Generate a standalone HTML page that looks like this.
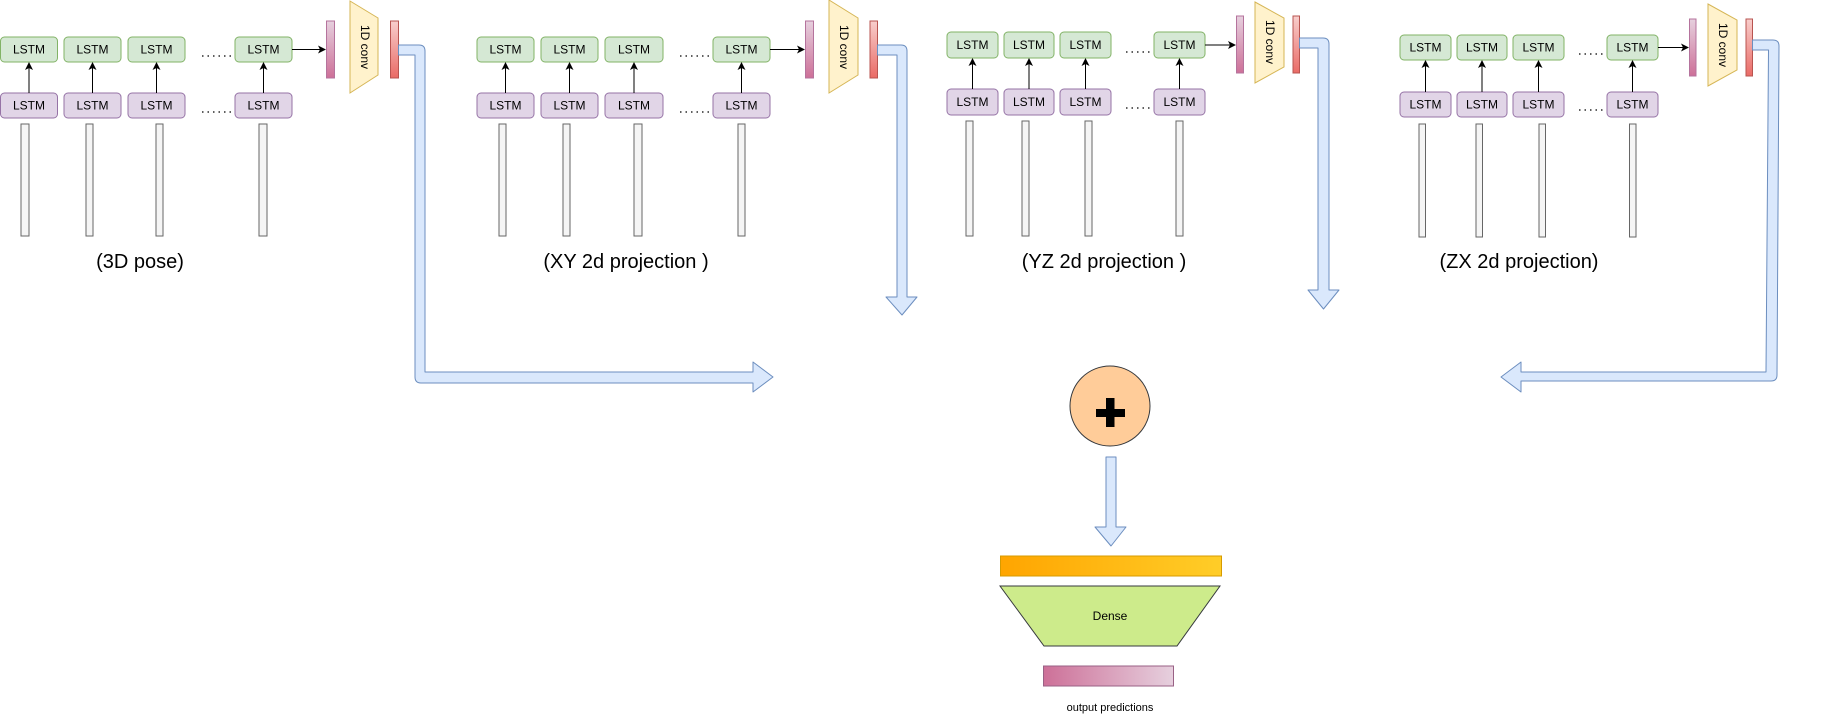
<!DOCTYPE html>
<html><head><meta charset="utf-8"><style>html,body{margin:0;padding:0;background:#fff;}svg{display:block;}text{font-family:"Liberation Sans",Arial,sans-serif;}
#w{position:relative;width:1821px;height:720px;}
.rc{position:absolute;width:80px;height:16px;margin-left:-40px;margin-top:-8px;line-height:16px;text-align:center;font:12px "Liberation Sans",Arial,sans-serif;color:#000;transform:rotate(90deg);white-space:nowrap;}
</style></head>
<body><div id="w">
<svg width="1821" height="720" viewBox="0 0 1821 720" xmlns="http://www.w3.org/2000/svg" font-family="Liberation Sans, Arial, sans-serif">
<defs>
<linearGradient id="pk" x1="0" y1="0" x2="0" y2="1"><stop offset="0" stop-color="#e6d0de"/><stop offset="1" stop-color="#cd7098"/></linearGradient>
<linearGradient id="rd" x1="0" y1="0" x2="0" y2="1"><stop offset="0" stop-color="#f8cecc"/><stop offset="1" stop-color="#ea6b66"/></linearGradient>
<linearGradient id="og" x1="0" y1="0" x2="1" y2="0"><stop offset="0" stop-color="#ffa500"/><stop offset="1" stop-color="#ffcd28"/></linearGradient>
<linearGradient id="op" x1="0" y1="0" x2="1" y2="0"><stop offset="0" stop-color="#cd7098"/><stop offset="1" stop-color="#e6d0de"/></linearGradient>
<marker id="ah" markerWidth="8" markerHeight="8" refX="7" refY="4" orient="auto" markerUnits="userSpaceOnUse"><path d="M0,0 L8,4 L0,8 L2,4 Z" fill="#000"/></marker>
<style>
.g{fill:#d5e8d4;stroke:#82b366;stroke-width:1}
.p{fill:#e1d5e7;stroke:#9673a6;stroke-width:1}
.b{fill:#f5f5f5;stroke:#666;stroke-width:1}
.t{font-family:"Liberation Sans",Arial,sans-serif;font-size:12px;text-anchor:middle;dominant-baseline:central;fill:#000}
.ln{stroke:#000;stroke-width:1;marker-end:url(#ah)}
.dt{stroke:#000;stroke-width:1.3;stroke-dasharray:1.5,4}
.tr{fill:#fff2cc;stroke:#d6b656;stroke-width:1}
.pb{fill:url(#pk);stroke:#b5739d}
.rb{fill:url(#rd);stroke:#b85450}
.pipe{fill:#dae8fc;stroke:#6c8ebf;stroke-width:1;stroke-linejoin:round}
.lab{font-family:"Liberation Sans",Arial,sans-serif;font-size:20px;text-anchor:middle;fill:#000}
</style>
</defs>

<!-- Group 1 -->
<g>
<rect class="g" x="0.5" y="37" width="57" height="25" rx="4"/><text class="t" x="29" y="49.5">LSTM</text>
<rect class="g" x="64" y="37" width="57" height="25" rx="4"/><text class="t" x="92.5" y="49.5">LSTM</text>
<rect class="g" x="128" y="37" width="57" height="25" rx="4"/><text class="t" x="156.5" y="49.5">LSTM</text>
<rect class="g" x="235" y="37" width="57" height="25" rx="4"/><text class="t" x="263.5" y="49.5">LSTM</text>
<rect class="p" x="0.5" y="93" width="57" height="25" rx="4"/><text class="t" x="29" y="105.5">LSTM</text>
<rect class="p" x="64" y="93" width="57" height="25" rx="4"/><text class="t" x="92.5" y="105.5">LSTM</text>
<rect class="p" x="128" y="93" width="57" height="25" rx="4"/><text class="t" x="156.5" y="105.5">LSTM</text>
<rect class="p" x="235" y="93" width="57" height="25" rx="4"/><text class="t" x="263.5" y="105.5">LSTM</text>
<line class="ln" x1="29" y1="93" x2="29" y2="63"/><line class="ln" x1="92.5" y1="93" x2="92.5" y2="63"/><line class="ln" x1="156.5" y1="93" x2="156.5" y2="63"/><line class="ln" x1="263.5" y1="93" x2="263.5" y2="63"/>
<line class="ln" x1="292" y1="49.5" x2="325" y2="49.5"/>
<line class="dt" x1="202" y1="56" x2="234" y2="56"/><line class="dt" x1="202" y1="112" x2="234" y2="112"/>
<rect class="b" x="21" y="124" width="8" height="112"/><rect class="b" x="86" y="124" width="7" height="112"/><rect class="b" x="156" y="124" width="7" height="112"/><rect class="b" x="259" y="124" width="8" height="112"/>
<rect class="pb" x="326.5" y="21" width="8" height="57"/>
<polygon class="tr" points="350,1 378,18 378,75 350,93"/>
<rect class="rb" x="390.5" y="21" width="8" height="57"/>
<text class="lab" x="140" y="268">(3D pose)</text>
</g>

<!-- Group 2 -->
<g>
<rect class="g" x="477" y="37" width="57" height="25" rx="4"/><text class="t" x="505.5" y="49.5">LSTM</text>
<rect class="g" x="541" y="37" width="57" height="25" rx="4"/><text class="t" x="569.5" y="49.5">LSTM</text>
<rect class="g" x="605" y="37" width="58" height="25" rx="4"/><text class="t" x="634" y="49.5">LSTM</text>
<rect class="g" x="713" y="37" width="57" height="25" rx="4"/><text class="t" x="741.5" y="49.5">LSTM</text>
<rect class="p" x="477" y="93" width="57" height="25" rx="4"/><text class="t" x="505.5" y="105.5">LSTM</text>
<rect class="p" x="541" y="93" width="57" height="25" rx="4"/><text class="t" x="569.5" y="105.5">LSTM</text>
<rect class="p" x="605" y="93" width="58" height="25" rx="4"/><text class="t" x="634" y="105.5">LSTM</text>
<rect class="p" x="713" y="93" width="57" height="25" rx="4"/><text class="t" x="741.5" y="105.5">LSTM</text>
<line class="ln" x1="505.5" y1="93" x2="505.5" y2="63"/><line class="ln" x1="569.5" y1="93" x2="569.5" y2="63"/><line class="ln" x1="634" y1="93" x2="634" y2="63"/><line class="ln" x1="741.5" y1="93" x2="741.5" y2="63"/>
<line class="ln" x1="770" y1="49.5" x2="804" y2="49.5"/>
<line class="dt" x1="680" y1="56" x2="712" y2="56"/><line class="dt" x1="680" y1="112" x2="712" y2="112"/>
<rect class="b" x="499" y="124" width="7" height="112"/><rect class="b" x="563" y="124" width="7" height="112"/><rect class="b" x="634" y="124" width="8" height="112"/><rect class="b" x="738" y="124" width="7" height="112"/>
<rect class="pb" x="805.5" y="21" width="8" height="57"/>
<polygon class="tr" points="829,0 858,18 858,75 829,93"/>
<rect class="rb" x="870" y="21" width="7.5" height="57"/>
<text class="lab" x="626" y="268">(XY 2d projection )</text>
</g>

<!-- Group 3 -->
<g>
<rect class="g" x="947" y="32" width="51" height="26" rx="4"/><text class="t" x="972.5" y="45">LSTM</text>
<rect class="g" x="1004" y="32" width="50" height="26" rx="4"/><text class="t" x="1029" y="45">LSTM</text>
<rect class="g" x="1060" y="32" width="51" height="26" rx="4"/><text class="t" x="1085.5" y="45">LSTM</text>
<rect class="g" x="1154" y="32" width="51" height="26" rx="4"/><text class="t" x="1179.5" y="45">LSTM</text>
<rect class="p" x="947" y="89" width="51" height="26" rx="4"/><text class="t" x="972.5" y="102">LSTM</text>
<rect class="p" x="1004" y="89" width="50" height="26" rx="4"/><text class="t" x="1029" y="102">LSTM</text>
<rect class="p" x="1060" y="89" width="51" height="26" rx="4"/><text class="t" x="1085.5" y="102">LSTM</text>
<rect class="p" x="1154" y="89" width="51" height="26" rx="4"/><text class="t" x="1179.5" y="102">LSTM</text>
<line class="ln" x1="972.5" y1="89" x2="972.5" y2="59"/><line class="ln" x1="1029" y1="89" x2="1029" y2="59"/><line class="ln" x1="1085.5" y1="89" x2="1085.5" y2="59"/><line class="ln" x1="1179.5" y1="89" x2="1179.5" y2="59"/>
<line class="ln" x1="1205" y1="45" x2="1235" y2="45"/>
<line class="dt" x1="1126" y1="52" x2="1153" y2="52"/><line class="dt" x1="1126" y1="108" x2="1153" y2="108"/>
<rect class="b" x="966" y="121" width="7" height="115"/><rect class="b" x="1022" y="121" width="7" height="115"/><rect class="b" x="1085" y="121" width="7" height="115"/><rect class="b" x="1176" y="121" width="7" height="115"/>
<rect class="pb" x="1236.5" y="16" width="7" height="57"/>
<polygon class="tr" points="1255,2 1284,18 1284,67 1255,83"/>
<rect class="rb" x="1293" y="16" width="6.5" height="57"/>
<text class="lab" x="1104" y="268">(YZ 2d projection )</text>
</g>

<!-- Group 4 -->
<g>
<rect class="g" x="1400" y="35" width="51" height="25" rx="4"/><text class="t" x="1425.5" y="47.5">LSTM</text>
<rect class="g" x="1457" y="35" width="50" height="25" rx="4"/><text class="t" x="1482" y="47.5">LSTM</text>
<rect class="g" x="1513" y="35" width="51" height="25" rx="4"/><text class="t" x="1538.5" y="47.5">LSTM</text>
<rect class="g" x="1607" y="35" width="51" height="25" rx="4"/><text class="t" x="1632.5" y="47.5">LSTM</text>
<rect class="p" x="1400" y="92" width="51" height="25" rx="4"/><text class="t" x="1425.5" y="104.5">LSTM</text>
<rect class="p" x="1457" y="92" width="50" height="25" rx="4"/><text class="t" x="1482" y="104.5">LSTM</text>
<rect class="p" x="1513" y="92" width="51" height="25" rx="4"/><text class="t" x="1538.5" y="104.5">LSTM</text>
<rect class="p" x="1607" y="92" width="51" height="25" rx="4"/><text class="t" x="1632.5" y="104.5">LSTM</text>
<line class="ln" x1="1425.5" y1="92" x2="1425.5" y2="61"/><line class="ln" x1="1482" y1="92" x2="1482" y2="61"/><line class="ln" x1="1538.5" y1="92" x2="1538.5" y2="61"/><line class="ln" x1="1632.5" y1="92" x2="1632.5" y2="61"/>
<line class="ln" x1="1658" y1="47.5" x2="1688" y2="47.5"/>
<line class="dt" x1="1579" y1="54" x2="1606" y2="54"/><line class="dt" x1="1579" y1="110" x2="1606" y2="110"/>
<rect class="b" x="1419" y="124" width="6.5" height="113"/><rect class="b" x="1476" y="124" width="6.5" height="113"/><rect class="b" x="1539" y="124" width="6.5" height="113"/><rect class="b" x="1629.5" y="124" width="6.5" height="113"/>
<rect class="pb" x="1689.5" y="19" width="6.5" height="57"/>
<polygon class="tr" points="1708,4 1737,20 1737,70 1708,86"/>
<rect class="rb" x="1746" y="19" width="6.5" height="57"/>
<text class="lab" x="1519" y="268">(ZX 2d projection)</text>
</g>

<!-- Pipes -->
<path class="pipe" d="M398.5,45 L419,45 Q425,45 425,51 L425,372 L753,372 L753,362 L773,377 L753,392 L753,383 L421,383 Q415,383 415,377 L415,55 L398.5,55 Z"/>
<path class="pipe" d="M877.5,45 L901,45 Q907,45 907,51 L907,297 L917,297 L902,315 L886,297 L897,297 L897,55 L877.5,55 Z"/>
<path class="pipe" d="M1299.5,38 L1323,38 Q1329,38 1329,44 L1329,290 L1339,290 L1323.5,309 L1308,290 L1318,290 L1318,48 L1299.5,48 Z"/>
<path class="pipe" d="M1752.5,40 L1773,40 Q1779,40 1779,46 L1777,375 Q1777,381 1771,381 L1521,381 L1521,392 L1501,377 L1521,362 L1521,372 L1766,372 L1768.5,50 L1752.5,50 Z"/>

<!-- Bottom -->
<circle cx="1110" cy="406" r="40" fill="#ffcc99" stroke="#36393d" stroke-width="1"/>
<rect x="1096" y="409" width="29" height="8" fill="#000"/>
<rect x="1106" y="398" width="8.5" height="29" fill="#000"/>
<path class="pipe" d="M1106,457 L1116,457 L1116,527 L1126,527 L1111,546 L1095,527 L1106,527 Z"/>
<rect x="1000.5" y="556" width="221" height="20" fill="url(#og)" stroke="#d79b00" stroke-width="1"/>
<polygon points="1000,586 1220,586 1177,646 1044,646" fill="#cdeb8b" stroke="#36393d" stroke-width="1"/>
<text x="1110" y="616" class="t">Dense</text>
<rect x="1043.5" y="666" width="130" height="20" fill="url(#op)" stroke="#996185" stroke-width="1"/>
<text x="1110" y="708" class="t" style="font-size:11px">output predictions</text>
</svg>
<div class="rc" style="left:364px;top:47px;">1D conv</div>
<div class="rc" style="left:843px;top:47px;">1D conv</div>
<div class="rc" style="left:1269px;top:42px;">1D conv</div>
<div class="rc" style="left:1722px;top:45px;">1D conv</div>
</div>
</body></html>
